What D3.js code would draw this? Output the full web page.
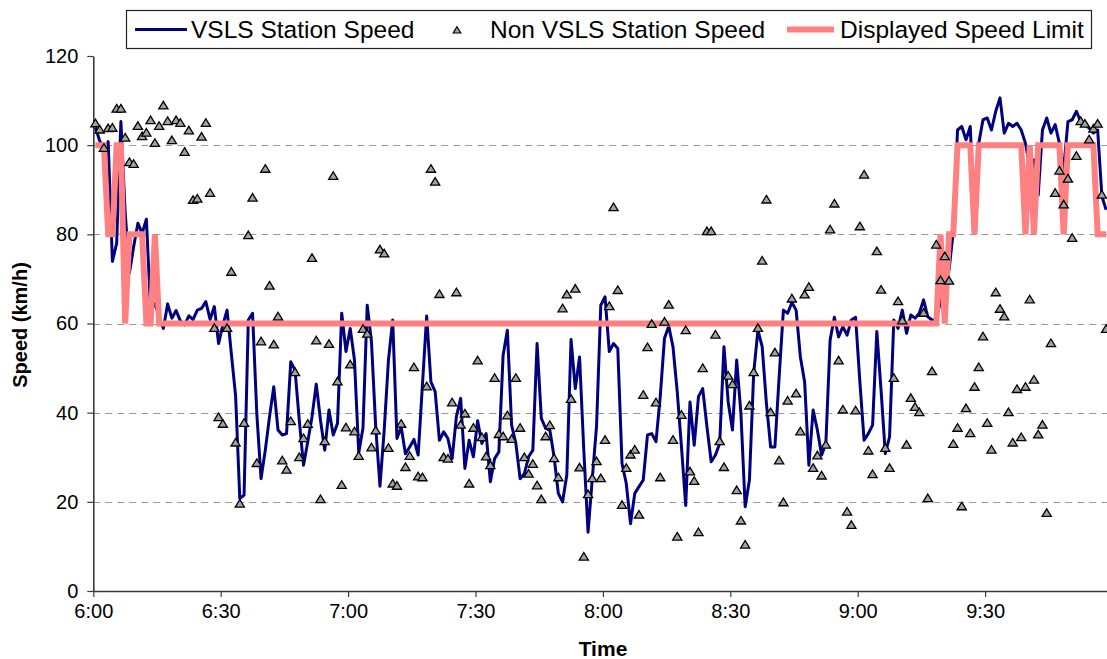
<!DOCTYPE html>
<html>
<head>
<meta charset="utf-8">
<script src="https://cdn.jsdelivr.net/npm/d3@7"></script>
<style>
  body { margin: 0; background: #ffffff; }
  svg { display: block; font-family: "Liberation Sans", Arial, sans-serif; }
</style>
</head>
<body>
<svg id="chart" width="1107" height="659"></svg>
<script>
// Speed at the VSLS station, one value per minute (km/h)
const vslsSpeed = [
  104, 101, 99, 100.8, 73.9, 78, 105.3, 85, 71.3, 77.2, 82.5, 80.2, 83.4, 63, 64.5, 61.5, 58.9, 64.4, 61.2, 62.9,
  60.6, 59.7, 61.7, 60.9, 63, 63.4, 64.9, 60.9, 63.8, 55.5,
  59.7, 63, 53.3, 43.9, 20.7, 21.5, 60.8, 62.3, 39.8, 25.2, 31.6, 39.1, 45.8, 36.1, 35, 35.3, 51.4, 49.6, 38.3, 28.2,
  33.5, 39.1, 46.4, 38.3, 31.6, 40.6, 35, 37.6, 62.3, 53.7,
  58.9, 51.8, 31.0, 36.5, 64.1, 55.9, 36.8, 23.5, 36.1, 51.8, 60.8, 34.2, 36.8, 30.8, 32.3, 34.0, 30.5, 46.2, 61.7, 46.9,
  44.7, 33.8, 35.7, 34.2, 29.7, 39.1, 43.2, 27.5, 33.8, 30.1,
  38.2, 33.1, 35.3, 24.5, 29.7, 31.2, 52.9, 58.5, 37.2, 33.1, 25.2, 26.3, 30.1, 31.6, 55.5, 38.7, 36.5, 36.1, 30.1, 21.9,
  20.0, 26.0, 56.4, 45.4, 52.5, 31.6, 13.2, 25.2, 37, 64.1,
  66.0, 53.7, 55.5, 54.4, 28.6, 24.1, 15.1, 21.9, 23.4, 24.9, 35.0, 35.3, 33.5, 43.6, 56.7, 59.4, 54.8, 44.7, 32.3, 19.2,
  42.4, 32.7, 43.6, 45.4, 36.8, 29.0, 30.5, 33.1, 54.8,
  42.4, 36.1, 51.8, 39.8, 18.9, 24.9, 48.8, 58.5, 54.8, 42.1, 32.3, 32.3, 48.1, 63.0, 62.3, 64.7, 63.0, 52.5, 46.9, 28.2,
  40.6, 36.1, 30.5, 33.1, 56.3, 61.4, 57.0, 59.3, 57.4, 60.8,
  61.4, 47, 33.8, 35.3, 37.2, 58.2, 45, 30.8, 34.6, 60.8, 58.9, 63.0, 57.8, 61.9, 61.2, 62.3, 65.3, 61.5, 60.8, 60.8,
  65, 70, 72, 80.6, 103.4, 104.2, 101.2, 104.2, 82, 100.4,
  105.7, 106.1, 103.4, 107.6, 110.6, 102.7, 104.9, 104.2, 104.9, 103.4, 100.4, 95.2, 96.7, 88.8, 103.4, 106.1, 102.7, 104.6, 100.4, 94.5,
  105.3, 105.7, 107.6, 105.3, 104.6, 103.8, 102.7, 103.4, 88.5, 85.5
];

// Speed at the neighbouring station without VSLS, same minutes (km/h)
const nonVslsSpeed = [
  104.8, 103.4, 99.3, 103.7, 103.8, 108.1, 108.1, 101.6, 96.1, 95.7, 104.2, 101.9, 102.7, 105.5, 100.4, 104.2, 108.8, 105.3, 101.0, 105.5,
  104.9, 98.4, 103.2, 87.6, 87.9, 101.8, 104.9, 89.2, 58.9, 38.9,
  37.4, 58.9, 71.5, 33.2, 19.5, 37.6, 79.7, 88.1, 28.6, 55.9, 94.6, 68.4, 55.2, 61.5, 29.2, 27.1, 38.0, 49.0, 29.9, 34.2,
  37.4, 74.6, 56.1, 20.5, 33.5, 55.3, 93.0, 46.9, 23.7, 36.6,
  50.7, 35.7, 30.2, 58.7, 57.6, 32.1, 35.9, 76.5, 75.6, 32.0, 24.0, 23.5, 37.4, 27.7, 30.2, 50.1, 25.6, 25.4, 45.8, 94.6,
  91.7, 66.5, 29.9, 29.6, 42.2, 66.9, 37.2, 39.7, 24.0, 36.5,
  51.6, 34.4, 30.1, 28.1, 47.7, 35.1, 34.6, 39.3, 34.0, 47.7, 36.5, 29.9, 26.2, 28.4, 23.6, 20.5, 34.6, 37.1, 29.7, 25.4,
  63.3, 66.4, 43.0, 67.7, 27.6, 7.6, 21.6, 25.2, 29.0, 25.2,
  33.8, 63.8, 86.0, 67.4, 19.2, 27.5, 30.5, 31.6, 17.0, 43.9, 54.6, 59.8, 42.2, 25.4, 60.3, 64.1, 33.8, 12.1, 39.4, 58.4,
  26.7, 24.6, 13.1, 49.9, 80.6, 80.6, 57.4, 33.5, 27.7,
  48.2, 46.3, 22.5, 15.7, 10.3, 41.5, 49.0, 58.9, 74.0, 87.7, 40.0, 53.4, 29.2, 19.8, 42.6, 65.5, 44.2, 35.7, 66.4, 68.1,
  27.5, 30.3, 25.8, 32.7, 81.0, 86.8, 51.6, 40.6, 17.7, 14.7,
  40.4, 81.7, 93.3, 31.4, 26.1, 76.1, 67.5, 32.0, 27.5, 47.7, 64.9, 60.6, 32.7, 43.2, 41.2, 40.0, 62.3, 20.7, 49.2, 77.6,
  69.6, 75.0, 69.5, 32.9, 36.5, 18.9, 40.9, 35.3, 45.7, 50.1,
  57.0, 37.6, 31.6, 66.9, 63.2, 61.5, 40.0, 33.2, 45.2, 34.4, 45.7, 65.3, 47.3, 35.0, 37.2, 17.4, 55.5, 89.2, 94.2, 86.6,
  92.4, 79.1, 97.5, 105.3, 104.7, 101.2, 103.6, 104.7, 88.8, 58.7
];

// Speed limit shown on the variable signs, same minutes (km/h)
const speedLimit = [
  100, 100, 100, 80, 80, 100, 100, 60, 80, 80, 80, 80, 60, 60, 80,
  60, 60, 60, 60, 60, 60, 60, 60, 60, 60, 60, 60, 60, 60, 60, 60, 60, 60, 60, 60,
  60, 60, 60, 60, 60, 60, 60, 60, 60, 60, 60, 60, 60, 60, 60, 60, 60, 60, 60, 60,
  60, 60, 60, 60, 60, 60, 60, 60, 60, 60, 60, 60, 60, 60, 60, 60, 60, 60, 60, 60,
  60, 60, 60, 60, 60, 60, 60, 60, 60, 60, 60, 60, 60, 60, 60, 60, 60, 60, 60, 60,
  60, 60, 60, 60, 60, 60, 60, 60, 60, 60, 60, 60, 60, 60, 60, 60, 60, 60, 60, 60,
  60, 60, 60, 60, 60, 60, 60, 60, 60, 60, 60, 60, 60, 60, 60, 60, 60, 60, 60, 60,
  60, 60, 60, 60, 60, 60, 60, 60, 60, 60, 60, 60, 60, 60, 60, 60, 60, 60, 60, 60,
  60, 60, 60, 60, 60, 60, 60, 60, 60, 60, 60, 60, 60, 60, 60, 60, 60, 60, 60, 60,
  60, 60, 60, 60, 60, 60, 60, 60, 60, 60, 60, 60, 60, 60, 60, 60, 60, 60, 60, 60,
  60, 60, 60, 60,
  80, 60, 80, 80, 100, 100, 100, 100, 80,
  100, 100, 100, 100, 100, 100, 100, 100, 100, 100, 100,
  80, 100, 80, 100, 100, 100, 100, 100, 100, 80,
  100, 100, 100, 100, 100, 100, 100, 80, 80, 80
];

// Time of the first sample, in minutes after 6:00; samples are one minute apart
const firstSampleMinute = 0.5;
const startHour = 6;
const lastAxisMinute = 238.7;

const timeTicks = [0, 30, 60, 90, 120, 150, 180, 210];
const speedTicks = [0, 20, 40, 60, 80, 100, 120];
const gridSpeeds = [20, 40, 60, 80, 100];

const legendItems = ["VSLS Station Speed", "Non VSLS Station Speed", "Displayed Speed Limit"];
const axisTitles = { x: "Time", y: "Speed (km/h)" };

const colors = { vsls: "#000080", limit: "#ff8080", marker: "#a3a3a3", axis: "#3a3a3a", grid: "#9a9a9a" };

const svg = d3.select("#chart");

const x = d3.scaleLinear().domain([0, lastAxisMinute]).range([93.3, 1107]);
const y = d3.scaleLinear().domain([0, 120]).range([591, 56]);

const tMinute = i => firstSampleMinute + i;

// dashed horizontal grid
svg.append("g").selectAll("line")
  .data(gridSpeeds)
  .join("line")
  .attr("x1", x(0)).attr("x2", 1107)
  .attr("y1", d => Math.round(y(d)) + 0.5).attr("y2", d => Math.round(y(d)) + 0.5)
  .attr("stroke", colors.grid)
  .attr("stroke-width", 1)
  .attr("stroke-dasharray", "7,5");

// axes
const fmtTime = m => `${startHour + Math.floor(m / 60)}:${String(m % 60).padStart(2, "0")}`;

const xAxis = svg.append("g")
  .attr("transform", `translate(0,${y(0)})`)
  .call(d3.axisBottom(x).tickValues(timeTicks).tickFormat(fmtTime).tickSize(6).tickSizeOuter(0).tickPadding(6));

const yAxis = svg.append("g")
  .attr("transform", `translate(${x(0)},0)`)
  .call(d3.axisLeft(y).tickValues(speedTicks).tickSize(6).tickSizeOuter(0).tickPadding(9));

[xAxis, yAxis].forEach(g => {
  g.select(".domain").attr("stroke", colors.axis).attr("stroke-width", 1.6);
  g.selectAll(".tick line").attr("stroke", colors.axis).attr("stroke-width", 1.2);
  g.selectAll(".tick text").attr("fill", "#000").style("font-size", "20px").attr("font-family", null);
});
xAxis.selectAll(".tick text").attr("dy", "0.76em");

// axis titles
svg.append("text")
  .attr("x", 603).attr("y", 656)
  .attr("text-anchor", "middle")
  .style("font-size", "21px").style("font-weight", "bold")
  .text(axisTitles.x);

svg.append("text")
  .attr("transform", "translate(27,325) rotate(-90)")
  .attr("text-anchor", "middle")
  .style("font-size", "20px").style("font-weight", "bold")
  .text(axisTitles.y);

// series
const line = d3.line().x((d, i) => x(tMinute(i))).y(d => y(d));

svg.append("path")
  .datum(vslsSpeed)
  .attr("d", line)
  .attr("fill", "none")
  .attr("stroke", colors.vsls)
  .attr("stroke-width", 3)
  .attr("stroke-linejoin", "round");

svg.append("path")
  .datum(speedLimit)
  .attr("d", line)
  .attr("fill", "none")
  .attr("stroke", colors.limit)
  .attr("stroke-width", 6)
  .attr("stroke-linejoin", "miter")
  .attr("stroke-miterlimit", 2);

const triangle = "M0,-4.6L4.6,3L-4.6,3Z";

svg.append("g").selectAll("path")
  .data(nonVslsSpeed)
  .join("path")
  .attr("transform", (d, i) => `translate(${x(tMinute(i))},${y(d)})`)
  .attr("d", triangle)
  .attr("fill", colors.marker)
  .attr("stroke", "#000")
  .attr("stroke-width", 1.3);

// legend
const legend = svg.append("g");
legend.append("rect")
  .attr("x", 126.5).attr("y", 10.5)
  .attr("width", 965).attr("height", 38)
  .attr("fill", "#fff")
  .attr("stroke", "#222")
  .attr("stroke-width", 1.2);

legend.append("line")
  .attr("x1", 135).attr("x2", 187).attr("y1", 29.5).attr("y2", 29.5)
  .attr("stroke", colors.vsls).attr("stroke-width", 3);
legend.append("path")
  .attr("transform", "translate(457,30.5)")
  .attr("d", "M0,-3.8L3.8,2.5L-3.8,2.5Z")
  .attr("fill", colors.marker).attr("stroke", "#000").attr("stroke-width", 1.2);
legend.append("line")
  .attr("x1", 787).attr("x2", 834).attr("y1", 29.5).attr("y2", 29.5)
  .attr("stroke", colors.limit).attr("stroke-width", 6);

const legendTextX = [191, 490, 840];
legend.selectAll("text.item")
  .data(legendItems)
  .join("text")
  .attr("class", "item")
  .attr("x", (d, i) => legendTextX[i])
  .attr("y", 38)
  .style("font-size", "24.5px")
  .text(d => d);
</script>
</body>
</html>
